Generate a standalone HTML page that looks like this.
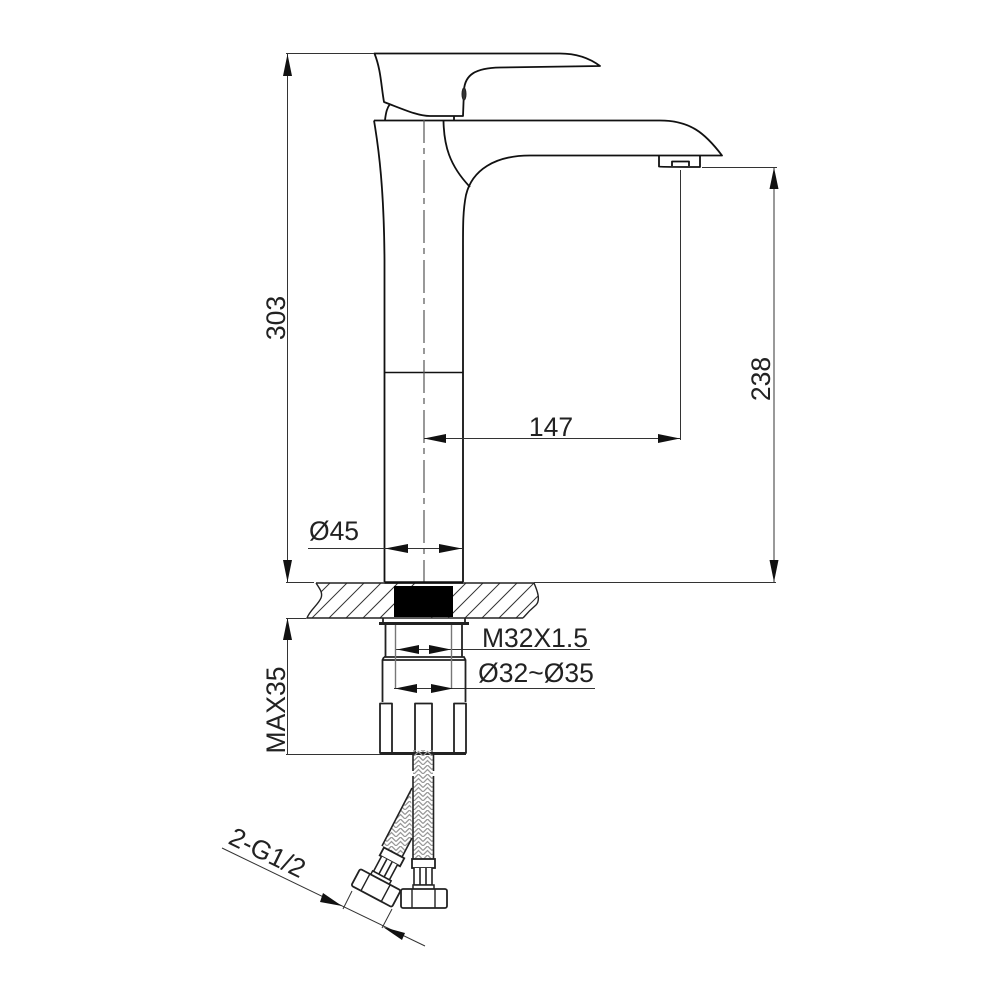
<!DOCTYPE html>
<html><head><meta charset="utf-8"><style>
html,body{margin:0;padding:0;background:#fff}
svg{display:block}
text{font-family:"Liberation Sans",sans-serif;fill:#222;font-size:26.5px}
</style></head><body>
<svg width="1000" height="1000" viewBox="0 0 1000 1000" xmlns="http://www.w3.org/2000/svg">
<defs>
<clipPath id="counter">
<path d="M316 583C320 589 323 593 321 598C318 605 310 610 307 618H523C530 610 541 602 538 594C537 590 535 586 534 583Z"/>
</clipPath>
<pattern id="braid" width="9" height="9" patternUnits="userSpaceOnUse">
<path d="M0 4.500L4.500 0L9 4.500M0 9L4.500 4.500L9 9" stroke="#999" stroke-width="1.3" fill="none"/>
</pattern>
<g id="fit">
<rect x="413" y="750" width="20" height="109" fill="url(#braid)" stroke="none"/>
<rect x="412" y="859" width="23" height="9" fill="#fff" stroke="#222" stroke-width="1.8"/>
<path d="M414 868V885H432V868M420 868V885M426 868V885" fill="#fff" stroke="#222" stroke-width="1.6"/>
<rect x="413" y="885" width="21" height="5" fill="#fff" stroke="#222" stroke-width="1.5"/>
<rect x="401" y="889" width="46" height="19" rx="2" fill="#fff" stroke="#222" stroke-width="1.8"/>
<path d="M412 889V908M435 889V908" stroke="#222" stroke-width="1.4" fill="none"/>
</g>
</defs>

<!-- handle -->
<g fill="none" stroke="#111" stroke-width="1.8" stroke-linejoin="round">
<path d="M374.500 53.500H560C580 53.500 592 60 600 66L500 67.500C475 68 465 75 464 90L463 116H430C418 116 405 110 384 102C381 85 381 70 374.500 53.500Z" fill="#fff"/>
<path d="M390 104C387 108 386 112 385 120M454 116V120"/>
<ellipse cx="464" cy="94" rx="2" ry="6" fill="#333" stroke="#222" stroke-width="1"/>
<!-- body and spout -->
<path d="M374 120.500H660C690 120.500 705 133 722 155.500H530C495 155.500 472 170 466 195C463 210 463 225 463 245V582"/>
<path d="M374 120.500C379 150 384 190 384.500 260V582"/>
<path d="M443.500 121C444 145 449 165 470 187"/>
<path d="M659 155.500C659 160 659 163 659 166.500Q660 167 700 167V155.500M672 166V161.500H689V166"/>
<path d="M384.500 372.500H463" stroke-width="1.4"/>
</g>

<!-- center line -->
<path d="M424 120V582" stroke="#555" stroke-width="1.2" stroke-dasharray="33 5 6 6" stroke-dashoffset="10" fill="none"/>

<!-- dimension lines -->
<g stroke="#333" stroke-width="1" fill="none">
<path d="M286 53.500H374M287.500 54V582M286 582.500H314M534 582.500H776M702 167.500H777M774 168V582"/>
<path d="M680.500 170V440M424 438.500H680"/>
<path d="M308 548.500H462"/>
<path d="M286 618.500H306M287.500 618V754M286 754.500H380"/>
<path d="M396 649.500H590M394 688.500H595" />
<path d="M222 848L425 946M352 891L343 909M392 909L382 928"/>
</g>
<g fill="#111" stroke="none">
<path d="M287.500 54L283 76H292Z"/><path d="M287.500 582L283 560H292Z"/>
<path d="M774 167.500L769.500 189H778.500Z"/><path d="M774 582L769.500 560H778.500Z"/>
<path d="M424 438.500L446 434V443Z"/><path d="M680 438.500L658 434V443Z"/>
<path d="M385 548.500L408 544V553Z"/><path d="M462 548.500L439 544V553Z"/>
<path d="M287.500 618L283 640H292Z"/>
<path d="M397 649.500L419 645V654Z"/><path d="M451 649.500L429 645V654Z"/>
<path d="M395 688.500L417 684V693Z"/><path d="M453 688.500L431 684V693Z"/>
<path d="M342 906L323 893L320 902Z"/><path d="M383 927L405 933L402 940Z"/>
</g>

<!-- countertop -->
<g clip-path="url(#counter)">
<path stroke="#333" stroke-width="1" fill="none" d="M295 618L331 582M312 618L348 582M329 618L365 582M346 618L382 582M363 618L399 582M380 618L416 582M431 618L467 582M448 618L484 582M465 618L501 582M482 618L518 582M499 618L535 582M516 618L552 582M533 618L569 582"/>
</g>
<path d="M316 583C320 589 323 593 321 598C318 605 310 610 307 618H523M534 583C537 590 541 600 536 605C530 610 528 612 523 618M316 583H534" fill="none" stroke="#222" stroke-width="1.4"/>
<rect x="394" y="586" width="59" height="31" fill="#000"/>
<path d="M384.500 582.500H463" stroke="#111" stroke-width="2.4"/>

<!-- lower assembly -->
<g fill="none" stroke="#222" stroke-width="1.8">
<path d="M383 618.500V623M465 618.500V623"/>
<path d="M379 623.500H469" stroke-width="3"/>
<path d="M385.500 625V657M462 625V657"/>
<path d="M384 657H464L465.500 660V702M384 657L382.500 660V702M382.500 660H465.500"/>
<path d="M380 703.500H392V753H380ZM415 703.500H432V753H415ZM454 703.500H466V753H454Z" stroke-linejoin="round"/>
<path d="M380 753.500H466" stroke-width="3"/>
</g>
<path d="M395.500 625V688M451.500 625V688" stroke="#777" stroke-width="1.4" fill="none"/>

<!-- hoses -->
<path d="M411 790L382 846L401 856L412 838Z" fill="url(#braid)"/>
<path d="M412 788L382 846M412 838L402 857" stroke="#222" stroke-width="1.6" fill="none"/>
<g transform="translate(376 888) rotate(28) translate(-424 -898.500)">
<rect x="412" y="859" width="23" height="9" fill="#fff" stroke="#222" stroke-width="1.8"/>
<path d="M414 868V885H432V868M420 868V885M426 868V885" fill="#fff" stroke="#222" stroke-width="1.6"/>
<rect x="413" y="885" width="21" height="5" fill="#fff" stroke="#222" stroke-width="1.500"/>
<rect x="401" y="889" width="46" height="19" rx="2" fill="#fff" stroke="#222" stroke-width="1.8"/>
<path d="M412 889V908M435 889V908" stroke="#222" stroke-width="1.4" fill="none"/>
</g>
<use href="#fit"/>
<path d="M413 753V771M413 776V859M433.500 753V771M433.500 776V859" stroke="#222" stroke-width="1.6" fill="none"/>

<!-- labels -->
<g>
<text transform="translate(285 318) rotate(-90)" text-anchor="middle">303</text>
<text transform="translate(770 379) rotate(-90)" text-anchor="middle">238</text>
<text x="551" y="436" text-anchor="middle">147</text>
<text x="334" y="540" text-anchor="middle">Ø45</text>
<text x="535" y="647" text-anchor="middle">M32X1.5</text>
<text x="536" y="682" text-anchor="middle">Ø32~Ø35</text>
<text transform="translate(285 710) rotate(-90)" text-anchor="middle">MAX35</text>
<text transform="translate(227 843) rotate(26)">2-G1/2</text>
</g>
</svg>
</body></html>
